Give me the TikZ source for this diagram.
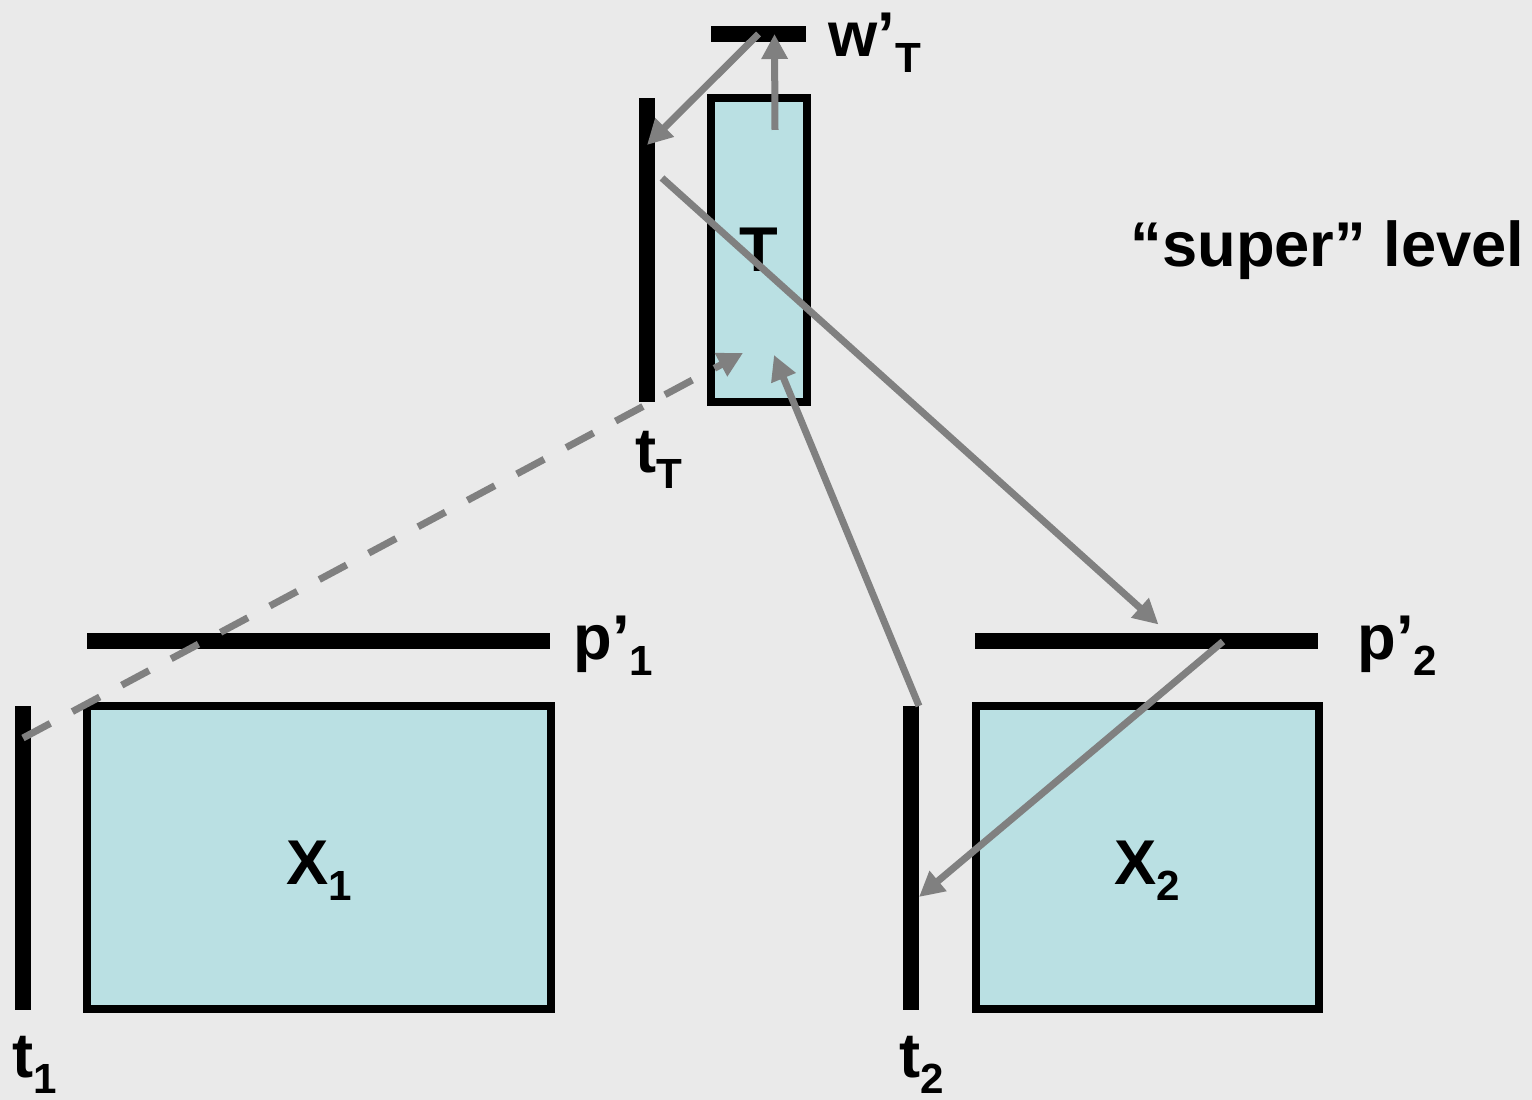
\documentclass[tikz,border=0pt]{standalone}
\usepackage{fontspec}
\setmainfont{Liberation Sans}
\usetikzlibrary{arrows.meta}
\definecolor{slidebg}{RGB}{234,234,234}
\definecolor{cellfill}{RGB}{186,224,227}
\definecolor{arrgray}{RGB}{128,128,128}
\newcommand{\lowidx}[1]{\raisebox{-4.5pt}{\fontsize{12}{12}\selectfont #1}}

\begin{document}
\begin{tikzpicture}[
    font=\fontsize{18}{21}\selectfont\bfseries,
    box/.style={draw, line width=0.08cm, fill=cellfill, inner sep=0, outer sep=0},
    bar/.style={fill=black, inner sep=0, outer sep=0},
    lbl/.style={anchor=base west, inner sep=0},
    arr/.style={arrgray, line width=0.07cm, -{Triangle[length=0.25cm,width=0.25cm]}}]
  \fill[slidebg] (0,0) rectangle (15.32,11);
  % matrices
  \node[box, minimum width=0.96cm, minimum height=3.04cm] (T) at (7.59,8.50) {T};
  \node[box, minimum width=4.64cm, minimum height=3.03cm] (X1) at (3.19,2.425) {};
  \node[box, minimum width=3.43cm, minimum height=3.03cm] (X2) at (11.475,2.425) {};
  \node[anchor=base, inner sep=0] (X1lbl) at ([yshift=-0.275cm]X1.center) {X\lowidx{1}};
  \node[anchor=base, inner sep=0] (X2lbl) at ([yshift=-0.275cm]X2.center) {X\lowidx{2}};
  % score and weight vectors
  \node[bar, minimum width=0.95cm, minimum height=0.16cm] (wT) at (7.585,10.66) {};
  \node[bar, minimum width=0.16cm, minimum height=3.04cm] (tT) at (6.47,8.50) {};
  \node[bar, minimum width=4.63cm, minimum height=0.16cm] (p1) at (3.185,4.585) {};
  \node[bar, minimum width=3.43cm, minimum height=0.16cm] (p2) at (11.465,4.585) {};
  \node[bar, minimum width=0.16cm, minimum height=3.04cm] (t1) at (0.23,2.42) {};
  \node[bar, minimum width=0.16cm, minimum height=3.04cm] (t2) at (9.11,2.42) {};
  % labels
  \node[lbl] (wTlbl) at (8.28,10.43) {w’\lowidx{T}};
  \node[lbl] (tTlbl) at (6.35,6.27) {t\lowidx{T}};
  \node[lbl] (p1lbl) at (5.73,4.40) {p’\lowidx{1}};
  \node[lbl] (p2lbl) at (13.57,4.40) {p’\lowidx{2}};
  \node[lbl] (t1lbl) at (0.12,0.22) {t\lowidx{1}};
  \node[lbl] (t2lbl) at (8.99,0.22) {t\lowidx{2}};
  \node[lbl] (level) at (11.30,8.33) {“super” level};
  % arrows
  \draw[arr] ([shift={(0.16,-0.32)}]T.north) -- ([xshift=0.16cm]wT.center);
  \draw[arr] (wT.center) -- ([yshift=-0.47cm]tT.north);
  \draw[arr] ([shift={(0.15,-0.80)}]tT.north) -- ([shift={(0.12,0.09)}]p2.north);
  \draw[arr] ([xshift=0.765cm]p2.center) -- ([yshift=-0.39cm]t2.east);
  \draw[arr] (t2.north east) -- ([shift={(0.15,0.47)}]T.south);
  \draw[arr, dash pattern=on 0.31cm off 0.25cm] ([yshift=-0.32cm]t1.north) -- ([shift={(-0.16,0.49)}]T.south);
\end{tikzpicture}
\end{document}
